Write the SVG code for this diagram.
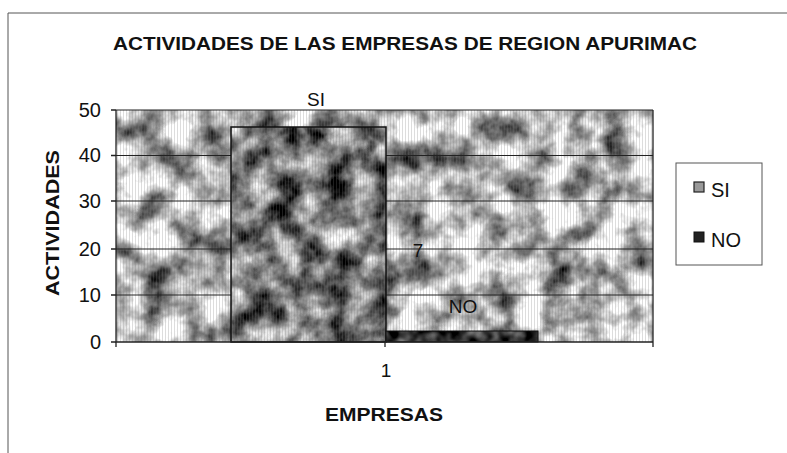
<svg xmlns="http://www.w3.org/2000/svg" width="787" height="453" viewBox="0 0 787 453">
<style>
.t{font-family:"Liberation Sans",Arial,sans-serif;fill:#111}
.b{font-weight:bold}
.grid{stroke:#222;stroke-width:1.2}
.ax{stroke:#222;stroke-width:1.3;fill:none}
filter{color-interpolation-filters:sRGB}
</style>
<defs>
<filter id="fbg" x="0" y="0" width="100%" height="100%" color-interpolation-filters="sRGB">
<feTurbulence type="fractalNoise" baseFrequency="0.035" numOctaves="4" seed="4"/>
<feColorMatrix type="matrix" values="1.8 0 0 0 -0.18  1.8 0 0 0 -0.18  1.8 0 0 0 -0.18  0 0 0 0 1"/>
</filter>
<filter id="fsi" x="0" y="0" width="100%" height="100%" color-interpolation-filters="sRGB">
<feTurbulence type="fractalNoise" baseFrequency="0.04" numOctaves="4" seed="9"/>
<feColorMatrix type="matrix" values="1.6 0 0 0 -0.33  1.6 0 0 0 -0.33  1.6 0 0 0 -0.33  0 0 0 0 1"/>
</filter>
<filter id="fno" x="0" y="0" width="100%" height="100%" color-interpolation-filters="sRGB">
<feTurbulence type="fractalNoise" baseFrequency="0.08" numOctaves="2" seed="2"/>
<feColorMatrix type="matrix" values="1 0 0 0 -0.3  1 0 0 0 -0.3  1 0 0 0 -0.3  0 0 0 0 1"/>
</filter>
<pattern id="vl" width="3" height="3" patternUnits="userSpaceOnUse">
<rect x="0" y="0" width="1" height="3" fill="#777" opacity="0.25"/>
</pattern>
</defs>
<rect width="787" height="453" fill="#fff"/>
<g id="frame">
<path d="M8 13 H787 M8 13 V453" stroke="#555" stroke-width="1" fill="none"/>
</g>
<text class="t b" x="405" y="50" font-size="19" text-anchor="middle" textLength="584" lengthAdjust="spacingAndGlyphs">ACTIVIDADES DE LAS EMPRESAS DE REGION APURIMAC</text>
<g id="plot">
<rect x="116" y="110" width="537" height="232" fill="#bbb" filter="url(#fbg)"/>
<rect x="116" y="110" width="537" height="232" fill="url(#vl)"/>
</g>
<g id="gridlines">
<line class="grid" x1="116" y1="110" x2="653" y2="110"/>
<line class="grid" x1="116" y1="155.5" x2="653" y2="155.5"/>
<line class="grid" x1="116" y1="201" x2="653" y2="201"/>
<line class="grid" x1="116" y1="249" x2="653" y2="249"/>
<line class="grid" x1="116" y1="295" x2="653" y2="295"/>
<line class="ax" x1="653" y1="110" x2="653" y2="342"/>
</g>
<g id="bar-si">
<rect x="231" y="127" width="155" height="215" fill="#777" filter="url(#fsi)"/>
<rect x="231" y="127" width="155" height="215" fill="url(#vl)" stroke="#111" stroke-width="1.5"/>
</g>
<g id="bar-no">
<rect x="386" y="331" width="152" height="11" fill="#333" filter="url(#fno)"/>
<rect x="386" y="331" width="152" height="11" fill="none" stroke="#111" stroke-width="1"/>
</g>
<g id="axes">
<path class="ax" d="M116 110 V342 H653"/>
<path class="ax" d="M111 110 H116 M111 155.5 H116 M111 201 H116 M111 249 H116 M111 295 H116 M111 342 H116 M116 342 V347 M385 342 V347 M653 342 V347"/>
</g>
<g id="ylabels" class="t" font-size="20" text-anchor="end">
<text x="101" y="117">50</text>
<text x="101" y="162">40</text>
<text x="101" y="208">30</text>
<text x="101" y="256">20</text>
<text x="101" y="302">10</text>
<text x="101" y="349">0</text>
</g>
<text class="t b" font-size="19" text-anchor="middle" textLength="146" lengthAdjust="spacingAndGlyphs" transform="translate(59 223) rotate(-90)">ACTIVIDADES</text>
<text class="t" x="386" y="377" font-size="19" text-anchor="middle">1</text>
<text class="t b" x="384" y="421" font-size="19" text-anchor="middle" textLength="118" lengthAdjust="spacingAndGlyphs">EMPRESAS</text>
<g id="datalabels" class="t" font-size="19" text-anchor="middle">
<text x="316" y="106">SI</text>
<text x="418" y="257">7</text>
<text x="463" y="313">NO</text>
</g>
<g id="legend">
<rect x="676" y="163" width="86" height="102" fill="#fff" stroke="#555" stroke-width="1"/>
<rect x="694" y="182" width="10" height="10" fill="#999" stroke="#222" stroke-width="1.2"/>
<rect x="694" y="232" width="10" height="10" fill="#222" stroke="#111" stroke-width="1"/>
<text class="t" x="711" y="197" font-size="20">SI</text>
<text class="t" x="711" y="247" font-size="20">NO</text>
</g>
</svg>
